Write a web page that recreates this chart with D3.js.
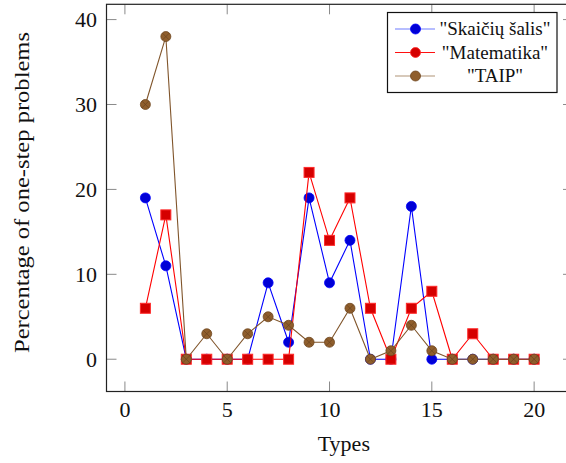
<!DOCTYPE html>
<meta charset="utf-8">
<script src="https://d3js.org/d3.v7.min.js"></script>
<style>
  body { margin: 0; background: #fff; }
  text { font-family: "Liberation Serif", "Times New Roman", serif; fill: #111; }
</style>
<div id="my_dataviz"></div>
<script>

// data
var types = [1,2,3,4,5,6,7,8,9,10,11,12,13,14,15,16,17,18,19,20];
var skaiciuSalis = [19,11,0,0,0,0,9,2,19,9,14,0,0,18,0,0,0,0,0,0];
var matematika   = [6,17,0,0,0,0,0,0,22,14,19,6,0,6,8,0,3,0,0,0];
var taip         = [30,38,0,3,0,3,5,4,2,2,6,0,1,4,1,0,0,0,0,0];
var xTicks = [0,5,10,15,20];
var yTicks = [0,10,20,30,40];

var W = 566, H = 463;
var pLeft = 106.5, pRight = 573, pTop = 4.3, pBottom = 391.5;

var svg = d3.select("#my_dataviz").append("svg")
    .attr("width", W).attr("height", H);

var x = d3.scaleLinear().domain([-0.9, 21.9]).range([pLeft, pRight]);
var y = d3.scaleLinear().domain([-3.8, 41.8]).range([pBottom, pTop]);

// ticks (inside, on all four sides)
var tickLen = 10;
var g = svg.append("g");
xTicks.forEach(function(t) {
  g.append("line").attr("x1", x(t)).attr("x2", x(t)).attr("y1", pBottom).attr("y2", pBottom - tickLen)
    .attr("stroke", "#8a8a8a").attr("stroke-width", 1);
  g.append("line").attr("x1", x(t)).attr("x2", x(t)).attr("y1", pTop).attr("y2", pTop + tickLen)
    .attr("stroke", "#8a8a8a").attr("stroke-width", 1);
  g.append("text").attr("x", x(t)).attr("y", 417).attr("text-anchor", "middle")
    .style("font-size", "22px").text(t);
});
yTicks.forEach(function(t) {
  g.append("line").attr("x1", pLeft).attr("x2", pLeft + tickLen).attr("y1", y(t)).attr("y2", y(t))
    .attr("stroke", "#8a8a8a").attr("stroke-width", 1);
  g.append("line").attr("x1", pRight).attr("x2", pRight - tickLen).attr("y1", y(t)).attr("y2", y(t))
    .attr("stroke", "#8a8a8a").attr("stroke-width", 1);
  g.append("text").attr("x", 97).attr("y", y(t) + 7.5).attr("text-anchor", "end")
    .style("font-size", "22px").text(t);
});

// axis box
svg.append("rect").attr("x", pLeft).attr("y", pTop)
  .attr("width", pRight - pLeft).attr("height", pBottom - pTop)
  .attr("fill", "none").attr("stroke", "#222").attr("stroke-width", 1.2);

// axis titles
svg.append("text").attr("x", x(10.7)).attr("y", 451).attr("text-anchor", "middle")
  .style("font-size", "22px").text("Types");
svg.append("text").attr("transform", "translate(29,192.5) rotate(-90)")
  .attr("text-anchor", "middle").style("font-size", "22px")
  .attr("textLength", 321).attr("lengthAdjust", "spacingAndGlyphs")
  .text("Percentage of one-step problems");

var series = [
  {name: "\"Skaičių šalis\"", values: skaiciuSalis, line: "#0000ff", fill: "#0000d6", stroke: "#0000ff", mark: "circle", legendLine: "#6f7dff"},
  {name: "\"Matematika\"", values: matematika, line: "#ff0000", fill: "#d50000", stroke: "#ff2a2a", mark: "square", legendLine: "#ff1010"},
  {name: "\"TAIP\"", values: taip, line: "#80552b", fill: "#8f5e2c", stroke: "#6e4620", mark: "otimes", legendLine: "#b09476"}
];

var line = d3.line().x(function(d, i) { return x(types[i]); }).y(function(d) { return y(d); });

function drawMark(sel, s, cx, cy) {
  if (s.mark === "square") {
    sel.append("rect").attr("x", cx - 5).attr("y", cy - 5).attr("width", 10).attr("height", 10)
      .attr("fill", s.fill).attr("stroke", s.stroke).attr("stroke-width", 1);
  } else {
    sel.append("circle").attr("cx", cx).attr("cy", cy).attr("r", 5)
      .attr("fill", s.fill).attr("stroke", s.stroke).attr("stroke-width", 0.8);
    if (s.mark === "otimes") {
      var r = 3.5;
      sel.append("path")
        .attr("d", "M" + (cx - r) + "," + (cy - r) + "L" + (cx + r) + "," + (cy + r) +
                   "M" + (cx - r) + "," + (cy + r) + "L" + (cx + r) + "," + (cy - r))
        .attr("stroke", "#6a4420").attr("stroke-width", 0.7);
    }
  }
}

var plot = svg.append("g");
series.forEach(function(s) {
  var gs = plot.append("g");
  gs.append("path").datum(s.values).attr("d", line)
    .attr("fill", "none").attr("stroke", s.line).attr("stroke-width", 1.1);
  s.values.forEach(function(v, i) { drawMark(gs, s, x(types[i]), y(v)); });
});

// legend
var lg = svg.append("g");
lg.append("rect").attr("x", 387.5).attr("y", 12.5).attr("width", 169.5).attr("height", 80)
  .attr("fill", "#fff").attr("stroke", "#111").attr("stroke-width", 1.2);
var rows = [29, 52.5, 76];
series.forEach(function(s, i) {
  var yy = rows[i];
  lg.append("line").attr("x1", 395).attr("x2", 435).attr("y1", yy).attr("y2", yy)
    .attr("stroke", s.legendLine).attr("stroke-width", 1.1);
  lg.append("circle").attr("cx", 415.5).attr("cy", yy).attr("r", 5)
    .attr("fill", s.fill).attr("stroke", s.stroke).attr("stroke-width", 0.8);
  lg.append("text").attr("x", 495).attr("y", yy + 6).attr("text-anchor", "middle")
    .style("font-size", "19px").text(s.name);
});

</script>
